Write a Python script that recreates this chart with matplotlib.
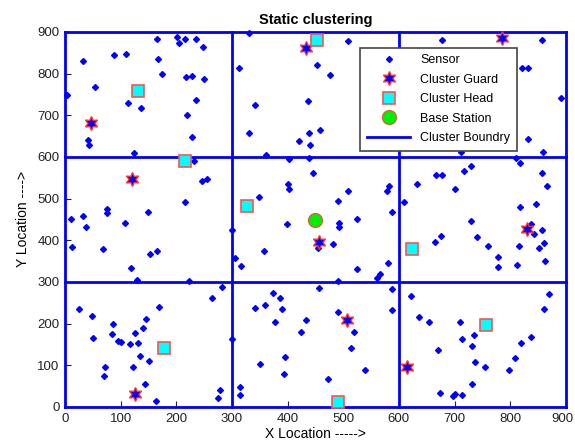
import matplotlib
matplotlib.use("Agg")
import matplotlib.pyplot as plt
import matplotlib.transforms as mtransforms
import numpy as np

plt.rcParams['font.family'] = ['Liberation Sans', 'DejaVu Sans']

# sensor nodes
sensor_x = [166, 201, 205, 216, 236, 248, 32, 88, 110, 168, 175, 217, 228, 250, 54, 4, 114, 137, 236, 219, 229, 41, 44, 124,
            231, 247, 256, 216, 75, 75, 150, 32, 10, 37, 108, 12, 68, 153, 166, 119, 130, 223, 283,
            264, 26, 48, 169, 87, 145, 141, 126, 85, 51, 95, 100, 116, 131, 135, 151, 72, 122, 71, 144, 163, 279, 275,
            331, 508, 312, 453, 476, 341, 436, 331, 438, 459, 420, 440, 551, 361, 403, 438,
            678, 857, 822, 832, 892, 832, 711, 859, 810, 818,
            857, 729, 717, 667, 678, 866, 632, 701, 610, 818, 847, 729, 837, 857, 843, 675, 740, 665, 760, 816, 860, 851,
            779, 779, 812, 862,
            622, 869, 860, 636, 655, 709, 735, 713, 837, 820, 731, 671, 808, 737, 754, 798, 731, 674, 701, 698, 713,
            446, 400, 402, 349, 583, 578, 508, 490, 587, 399, 525, 492, 492, 301, 454, 481, 358, 305, 316, 525, 580, 566, 560,
            456, 587, 490, 374, 387, 360, 341, 390, 587, 490, 378, 433, 424, 519, 301, 514, 396, 351, 539, 393, 473, 314, 314]
sensor_y = [883, 889, 873, 883, 883, 865, 831, 844, 847, 834, 799, 792, 794, 787, 769, 748, 729, 718, 737, 701, 648, 641, 629, 610,
            590, 542, 547, 493, 475, 466, 469, 459, 451, 433, 441, 385, 380, 366, 375, 333, 305, 302, 289,
            262, 236, 218, 239, 200, 210, 189, 177, 174, 165, 158, 155, 152, 153, 123, 110, 97, 96, 75, 55, 15, 40, 21,
            897, 878, 813, 821, 797, 724, 734, 658, 658, 664, 639, 629, 629, 605, 594, 597,
            881, 881, 813, 814, 742, 642, 613, 611, 598, 585,
            561, 579, 566, 556, 556, 530, 535, 524, 493, 479, 486, 446, 439, 425, 414, 411, 408, 395, 387, 387, 393, 382,
            359, 335, 340, 351,
            267, 272, 235, 215, 204, 204, 173, 162, 167, 154, 146, 136, 118, 107, 96, 89, 54, 34, 30, 26, 28,
            561, 535, 523, 505, 530, 518, 518, 495, 469, 440, 450, 441, 431, 425, 382, 390, 375, 357, 338, 331, 346, 318, 310,
            285, 282, 302, 273, 262, 244, 238, 235, 233, 228, 204, 209, 181, 181, 162, 141, 120, 102, 89, 78, 66, 49, 28]

guard_x = [46, 120, 125, 433, 457, 507, 786, 831, 615]
guard_y = [682, 546, 30, 861, 397, 209, 885, 427, 97]

head_x = [131, 215, 178, 452, 328, 490, 624, 756]
head_y = [758, 590, 142, 881, 482, 12, 380, 197]

base_x = [450]
base_y = [448]

bounds = [0, 300, 600, 900]

fig = plt.figure(figsize=(5.75, 4.45), dpi=100)
ax = fig.add_axes([0.113, 0.0854, 0.871, 0.8427])

ax.plot(sensor_x, sensor_y, 'D', color='blue', ms=3, mec='blue', ls='none', label='Sensor', zorder=3, clip_on=False)
ax.plot(guard_x, guard_y, marker=(6, 1, 0), color='blue', mec='#ff3030', mew=1, ms=10, ls='none',
        label='Cluster Guard', zorder=4, clip_on=False)
ax.plot(head_x, head_y, 's', color='cyan', mec='#ff5050', mew=1.2, ms=9, ls='none',
        label='Cluster Head', zorder=4, clip_on=False)
ax.plot(base_x, base_y, 'o', color='#00ee00', mec='#e06040', mew=1, ms=10, ls='none',
        label='Base Station', zorder=4, clip_on=False)

for i, b in enumerate(bounds):
    ax.axvline(b, color='blue', lw=2, zorder=2, clip_on=False, label='Cluster Boundry' if i == 0 else None)
    ax.axhline(b, color='blue', lw=2, zorder=2, clip_on=False)

ax.set_xlim(0, 900)
ax.set_ylim(0, 900)
ax.set_xticks(np.arange(0, 901, 100))
ax.set_yticks(np.arange(0, 901, 100))
ax.tick_params(direction='in', length=4, labelsize=9.5, colors='#222222', pad=4)
for s in ax.spines.values():
    s.set_color('blue')

# nudge the last x tick label so it stays inside the figure
last = ax.get_xticklabels()[-1]
last.set_transform(last.get_transform() + mtransforms.ScaledTranslation(-3 / 100, 0, fig.dpi_scale_trans))

ax.set_title('Static clustering', fontsize=10.5, fontweight='bold', pad=6)
ax.set_xlabel('X Location ----->', fontsize=10, labelpad=2)
ax.set_ylabel('Y Location ---->', fontsize=10, labelpad=5)

leg = ax.legend(loc='upper right', bbox_to_anchor=(0.902, 0.957), borderaxespad=0, fancybox=False,
                framealpha=1, edgecolor='#444444', fontsize=9, handlelength=3.5, labelspacing=0.6,
                borderpad=0.5)
leg.get_frame().set_linewidth(1.2)
leg.set_zorder(5)

fig.savefig('out.png', dpi=100)
